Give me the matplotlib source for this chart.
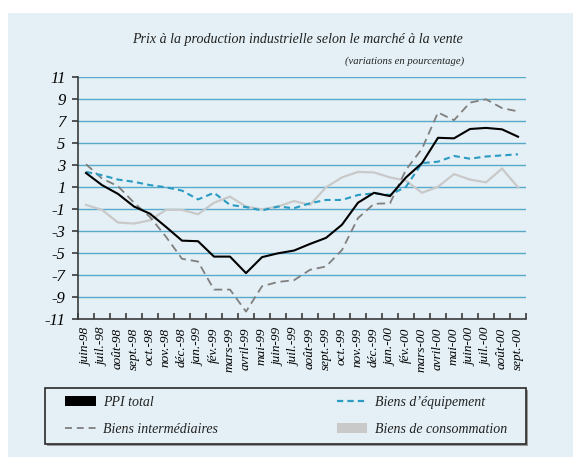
import matplotlib
matplotlib.use("Agg")
import matplotlib.pyplot as plt
from matplotlib.patches import Rectangle, Patch
from matplotlib.lines import Line2D
import numpy as np

plt.rcParams['lines.scale_dashes'] = False

months = ["juin-98", "juil.-98", "août-98", "sept.-98", "oct.-98", "nov.-98", "déc.-98",
          "jan.-99", "fév.-99", "mars-99", "avril-99", "mai-99", "juin-99", "juil.-99",
          "août-99", "sept.-99", "oct.-99", "nov.-99", "déc.-99", "jan.-00", "fév.-00",
          "mars-00", "avril-00", "mai-00", "juin-00", "juil.-00", "août-00", "sept.-00"]

ppi_total = [2.3, 1.2, 0.4, -0.75, -1.4, -2.6, -3.85, -3.9, -5.3, -5.3, -6.8, -5.35, -5.0, -4.75,
             -4.15, -3.6, -2.4, -0.4, 0.5, 0.2, 1.9, 3.2, 5.5, 5.45, 6.3, 6.4, 6.27, 5.6]
biens_intermediaires = [3.1, 1.8, 1.1, -0.4, -1.7, -3.5, -5.5, -5.75, -8.3, -8.3, -10.3, -8.0, -7.6, -7.45,
                        -6.5, -6.2, -4.7, -1.8, -0.5, -0.45, 2.6, 4.5, 7.8, 7.1, 8.7, 9.0, 8.2, 7.9]
biens_equipement = [2.4, 2.1, 1.7, 1.5, 1.2, 1.0, 0.7, -0.1, 0.5, -0.6, -0.8, -1.1, -0.75, -0.9,
                    -0.45, -0.15, -0.15, 0.3, 0.45, 0.3, 1.05, 3.2, 3.33, 3.85, 3.6, 3.8, 3.9, 4.0]
biens_consommation = [-0.6, -1.05, -2.2, -2.3, -2.0, -1.05, -1.05, -1.45, -0.4, 0.15, -0.75, -1.0, -0.75, -0.25,
                      -0.6, 1.0, 1.9, 2.4, 2.35, 1.9, 1.6, 0.5, 1.05, 2.2, 1.7, 1.45, 2.7, 1.0]

y_ticks = list(range(-11, 12, 2))

BG = "#e4f0f5"
GRID = "#5aa9cc"
BLUE = "#2a9bc2"
GRAY = "#7f7f7f"
LIGHT = "#c9c9c9"
SPINE = "#3a3a3a"
FONT = "Liberation Serif"

W, H = 573, 457
fig = plt.figure(figsize=(W / 100, H / 100), dpi=100)
fig.patch.set_facecolor("white")
fig.add_artist(Rectangle((8 / W, 0), 1 - 8 / W, 1 - 13 / H, transform=fig.transFigure,
                         facecolor=BG, edgecolor="none", zorder=-10))

ax = fig.add_axes([78 / W, 1 - 319.3 / H, (526 - 78) / W, (319.3 - 77.3) / H])
ax.set_facecolor("none")

x = np.arange(len(months))
ax.plot(x, biens_consommation, color=LIGHT, lw=1.6, zorder=3, solid_joinstyle="miter")
ax.plot(x, biens_intermediaires, color=GRAY, lw=1.3, dashes=(6, 3.5), zorder=4)
ax.plot(x, biens_equipement, color=BLUE, lw=1.5, dashes=(4.5, 3), zorder=5)
ax.plot(x, ppi_total, color="black", lw=1.5, zorder=6)

ax.set_xlim(-0.5, len(months) - 0.5)
ax.set_ylim(-11, 11)

for v in y_ticks:
    if v > -11:
        ax.axhline(v, color=GRID, lw=1.0, zorder=1)

for s in ["top", "right"]:
    ax.spines[s].set_visible(False)
for s in ["left", "bottom"]:
    ax.spines[s].set_color(SPINE)
    ax.spines[s].set_linewidth(1.2)
    ax.spines[s].set_zorder(7)

ax.set_yticks(y_ticks)
ax.set_yticklabels([("-" + str(-v)) if v < 0 else str(v) for v in y_ticks],
                   fontfamily=FONT, fontstyle="italic", fontsize=12)
ax.tick_params(axis="y", direction="out", length=4, width=1.2, color=SPINE, pad=5)

ax.set_xticks(x)
ax.set_xticklabels(months, rotation=90, fontfamily=FONT, fontstyle="italic", fontsize=9.5,
                   va="top", ha="center")
ax.tick_params(axis="x", which="major", length=0, pad=6)
ax.set_xticks(np.arange(-0.5, len(months)), minor=True)
ax.tick_params(axis="x", which="minor", direction="in", length=4, width=1.2, color=SPINE)

fig.text(297 / W, 1 - 39 / H, "Prix à la production industrielle selon le marché à la vente",
         ha="center", va="center", fontfamily=FONT, fontstyle="italic", fontsize=10.1, color="#222222")
fig.text(464 / W, 1 - 61 / H, "(variations en pourcentage)",
         ha="right", va="center", fontfamily=FONT, fontstyle="italic", fontsize=7.7, color="#222222")

# legend box with shadow
fig.add_artist(Rectangle((46.5 / W, 1 - 446 / H), (526 - 44.5) / W, (444 - 388) / H,
                         transform=fig.transFigure, facecolor="#9a9a9a", edgecolor="none", zorder=1))
fig.add_artist(Rectangle((44.5 / W, 1 - 444 / H), (526 - 44.5) / W, (444 - 388) / H,
                         transform=fig.transFigure, facecolor=BG, edgecolor="#2a2a2a", lw=1.2, zorder=2))

handles = [Patch(facecolor="black", edgecolor="none"),
           Line2D([0], [0], color=GRAY, lw=1.3, dashes=(5, 3.5)),
           Line2D([0], [0], color=BLUE, lw=1.6, dashes=(4.5, 3)),
           Patch(facecolor=LIGHT, edgecolor="none")]
labels = ["PPI total", "Biens intermédiaires", "Biens d’équipement", "Biens de consommation"]
leg = fig.legend(handles, labels, ncol=2, mode="expand", frameon=False,
                 bbox_to_anchor=(65 / W, 1 - 444 / H, (507 - 65) / W, (444 - 388) / H),
                 bbox_transform=fig.transFigure, loc="center", borderaxespad=0, borderpad=0,
                 handlelength=2.2, handletextpad=0.55, labelspacing=1.0,
                 prop={"family": FONT, "style": "italic", "size": 10})
leg.set_zorder(3)
for t in leg.get_texts():
    t.set_color("#222222")

fig.savefig("out.png", dpi=100, facecolor="white")
